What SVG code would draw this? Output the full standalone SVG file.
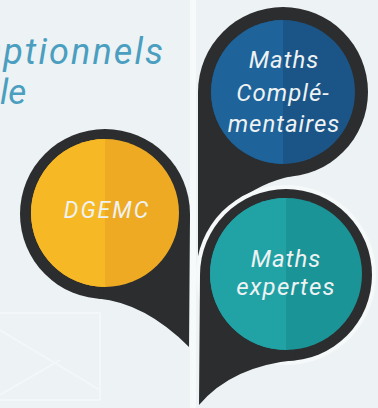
<svg xmlns="http://www.w3.org/2000/svg" width="378" height="408" viewBox="0 0 378 408">
  <defs>
    <style>
      .ring { fill: #2c2d2f; }
      .lbl { font-family: Roboto, "Open Sans", "DejaVu Sans", sans-serif; font-style: italic; fill: #eef2f3; text-anchor: middle; }
      .title { font-family: Roboto, "Open Sans", "DejaVu Sans", sans-serif; font-style: italic; font-weight: 400; fill: #4a9ec0; }
      .bgline { stroke: #f7fafb; fill: none; opacity: 0.7; }
    </style>
  </defs>
  <rect width="378" height="408" fill="#edf2f4"/>
  <g id="background">
    <rect x="190" y="0" width="6" height="408" fill="#f7fafb"/>
    <path class="bgline" stroke-width="2" d="M0,313 H100 V400 H0 M0,330 L100,390 M0,395 L60,360"/>
  </g>
  <g id="title">
    <text class="title" x="-23" y="64" font-size="36" textLength="186" lengthAdjust="spacing">Optionnels</text>
    <text class="title" x="0" y="104" font-size="35">le</text>
  </g>
  <g id="connectors"></g>
  <g id="maths-complementaires">
    <circle class="ring" cx="283" cy="92" r="85"/>
    <path class="ring" d="M198,92 L198,258 Q226,190 292,176 L283,92 Z"/>
    <circle cx="283" cy="92" r="72" fill="#1b5588"/>
    <path d="M283,20 A72,72 0 0 0 283,164 Z" fill="#1e6399"/>
    <text class="lbl" x="284" y="68" font-size="24" letter-spacing="1">Maths</text>
    <text class="lbl" x="283" y="101" font-size="24" letter-spacing="1">Complé-</text>
    <text class="lbl" x="284" y="132" font-size="24" letter-spacing="1">mentaires</text>
  </g>
  <g id="dgemc">
    <circle class="ring" cx="105" cy="214" r="85"/>
    <path class="ring" d="M190,214 L189,347 Q145,303 98,298.6 L105,214 Z"/>
    <circle cx="105" cy="213" r="74" fill="#eeaa22"/>
    <path d="M105,139 A74,74 0 0 0 105,287 Z" fill="#f6b925"/>
    <text class="lbl" x="107" y="218" font-size="23" letter-spacing="2">DGEMC</text>
  </g>
  <g id="maths-expertes">
    <circle cx="286" cy="275" r="90" fill="#f6f9fa"/>
    <circle class="ring" cx="286" cy="275" r="86"/>
    <path class="ring" d="M200,275 L199,405 Q232,366 296,360 L286,275 Z"/>
    <circle cx="286" cy="274" r="76" fill="#1b9497"/>
    <path d="M286,198 A76,76 0 0 0 286,350 Z" fill="#21a2a5"/>
    <text class="lbl" x="286" y="267" font-size="24" letter-spacing="1">Maths</text>
    <text class="lbl" x="286" y="295" font-size="24" letter-spacing="1.2">expertes</text>
  </g>
</svg>
